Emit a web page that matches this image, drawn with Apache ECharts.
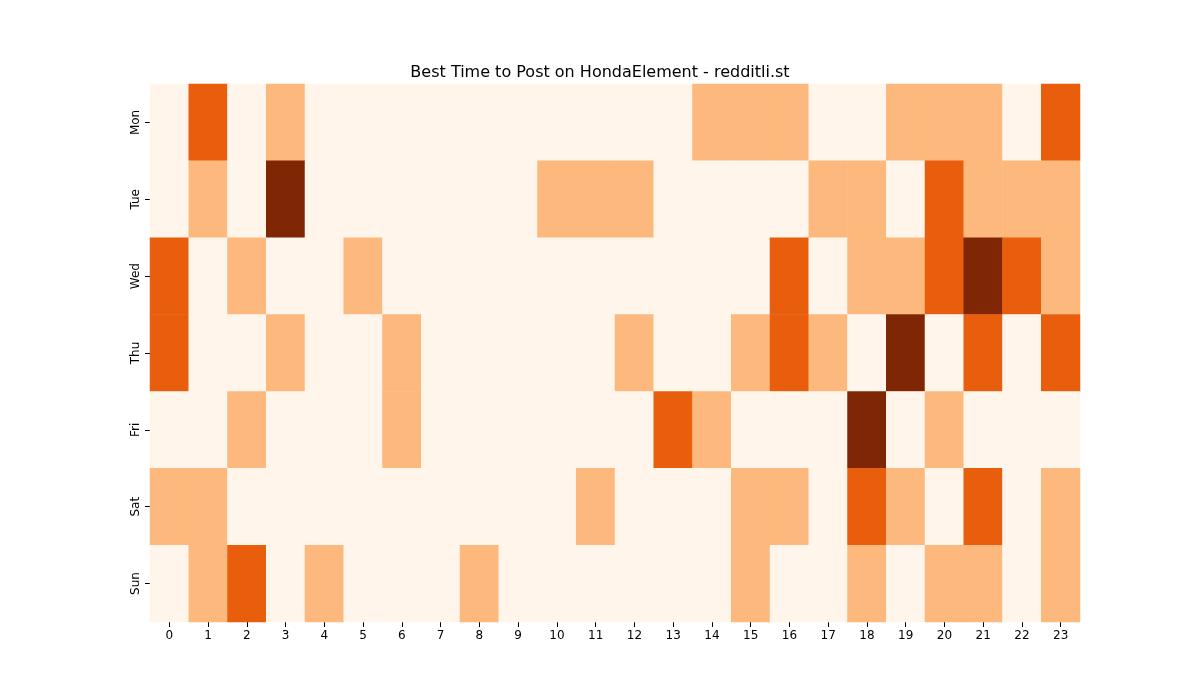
<!DOCTYPE html>
<html><head><meta charset="utf-8">
<script src="https://cdn.jsdelivr.net/npm/echarts@6/dist/echarts.min.js"></script>
<style>html,body{margin:0;padding:0}#c{width:1200px;height:700px}</style>
</head><body><div id="c"></div>
<script>
const hours = ['0','1','2','3','4','5','6','7','8','9','10','11','12','13','14','15','16','17','18','19','20','21','22','23'];
const days = ['Mon','Tue','Wed','Thu','Fri','Sat','Sun'];
const Mon = [0,2,0,1,0,0,0,0,0,0,0,0,0,0,1,1,1,0,0,1,1,1,0,2];
const Tue = [0,1,0,3,0,0,0,0,0,0,1,1,1,0,0,0,0,1,1,0,2,1,1,1];
const Wed = [2,0,1,0,0,1,0,0,0,0,0,0,0,0,0,0,2,0,1,1,2,3,2,1];
const Thu = [2,0,0,1,0,0,1,0,0,0,0,0,1,0,0,1,2,1,0,3,0,2,0,2];
const Fri = [0,0,1,0,0,0,1,0,0,0,0,0,0,2,1,0,0,0,3,0,1,0,0,0];
const Sat = [1,1,0,0,0,0,0,0,0,0,0,1,0,0,0,1,1,0,2,1,0,2,0,1];
const Sun = [0,1,2,0,1,0,0,0,1,0,0,0,0,0,0,1,0,0,1,0,1,1,0,1];
const rows = [Mon,Tue,Wed,Thu,Fri,Sat,Sun];
const data = [];
rows.forEach((r,y)=>r.forEach((v,x)=>data.push([x,y,v])));
const chart = echarts.init(document.getElementById('c'));
chart.setOption({
  animation:false,
  title:{text:'Best Time to Post on HondaElement - redditli.st',left:'center',top:60,textStyle:{fontFamily:'DejaVu Sans',fontSize:16,fontWeight:'normal',color:'#000'}},
  grid:{left:150,right:120,top:84,bottom:78},
  xAxis:{type:'category',data:hours,splitArea:{show:false},axisLine:{show:false},
    axisTick:{show:true,alignWithLabel:true,lineStyle:{color:'#000'}},axisLabel:{color:'#000',fontSize:12,fontFamily:'DejaVu Sans'}},
  yAxis:{type:'category',data:days,inverse:true,axisLine:{show:false},
    axisTick:{show:true,alignWithLabel:true,lineStyle:{color:'#000'}},axisLabel:{color:'#000',fontSize:12,rotate:90,fontFamily:'DejaVu Sans'}},
  visualMap:{show:false,type:'piecewise',dimension:2,pieces:[
    {value:0,color:'#fff5eb'},{value:1,color:'#fdb97d'},{value:2,color:'#e95e0d'},{value:3,color:'#7f2704'}]},
  series:[{type:'heatmap',data:data,itemStyle:{borderWidth:0}}],
  graphic:[{type:'text',left:550,top:337,style:{text:'redditli.st',fontSize:28,fontFamily:'DejaVu Sans',fill:'rgba(150,150,150,0.5)'}}]
});
</script></body></html>
